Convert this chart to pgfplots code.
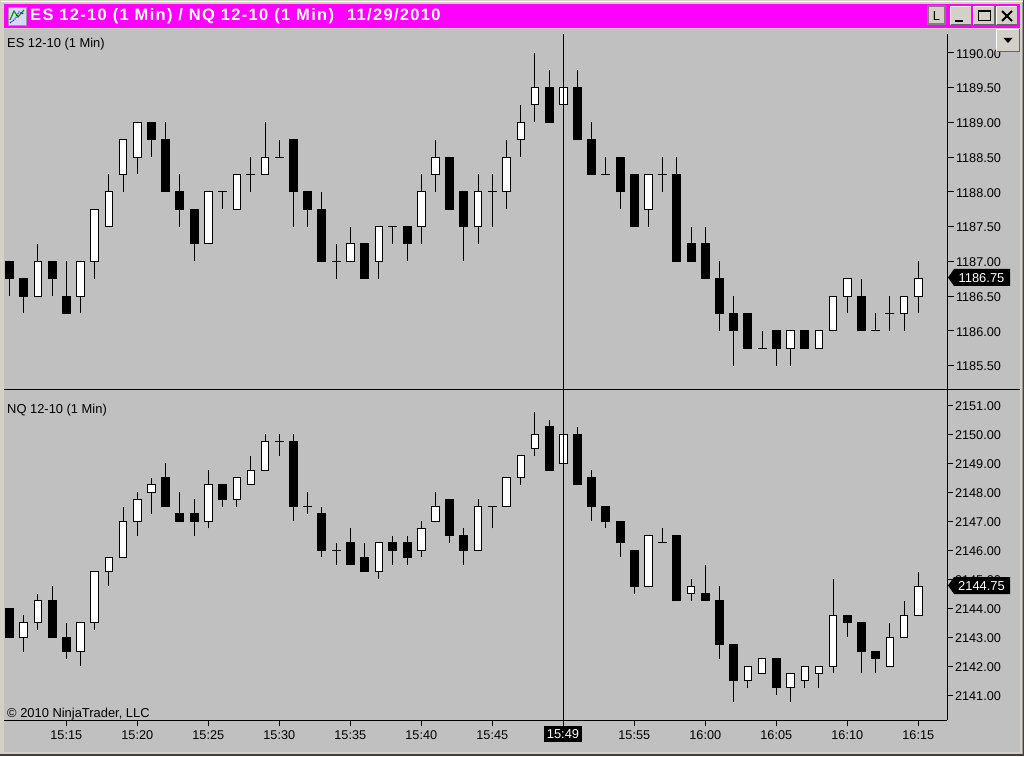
\documentclass[border=0pt]{standalone}
\usepackage{fontspec}
\setmainfont{Liberation Sans}
\usepackage{pgfplots}
\usepackage{pgfplotstable}
\pgfplotsset{compat=1.18}
\definecolor{chart}{HTML}{C0C0C0}
\definecolor{chrome}{HTML}{D4D0C8}
\definecolor{hotmag}{HTML}{FF00FF}
\pgfplotstableread{
t o h l c
11 1187 1187 1186.5 1186.75
12 1186.75 1186.75 1186.25 1186.5
13 1186.5 1187.25 1186.5 1187
14 1187 1187 1186.5 1186.75
15 1186.5 1187 1186.25 1186.25
16 1186.5 1187 1186.25 1187
17 1187 1187.75 1186.75 1187.75
18 1187.5 1188.25 1187.5 1188
19 1188.25 1188.75 1188 1188.75
20 1188.5 1189 1188.25 1189
21 1189 1189 1188.5 1188.75
22 1188.75 1189 1188 1188
23 1188 1188.25 1187.5 1187.75
24 1187.75 1187.75 1187 1187.25
25 1187.25 1188 1187.25 1188
26 1188 1188 1187.75 1188
27 1187.75 1188.25 1187.75 1188.25
28 1188.25 1188.5 1188 1188.25
29 1188.25 1189 1188.25 1188.5
30 1188.5 1188.75 1188.5 1188.5
31 1188.75 1188.75 1187.5 1188
32 1188 1188 1187.5 1187.75
33 1187.75 1188 1187 1187
34 1187 1187.25 1186.75 1187
35 1187 1187.5 1187 1187.25
36 1187.25 1187.25 1186.75 1186.75
37 1187 1187.5 1186.75 1187.5
38 1187.5 1187.5 1187.25 1187.5
39 1187.5 1187.5 1187 1187.25
40 1187.5 1188.25 1187.25 1188
41 1188.25 1188.75 1188 1188.5
42 1188.5 1188.5 1187.75 1187.75
43 1188 1188 1187 1187.5
44 1187.5 1188.25 1187.25 1188
45 1188 1188.25 1187.5 1188
46 1188 1188.75 1187.75 1188.5
47 1188.75 1189.25 1188.5 1189
48 1189.25 1190 1189 1189.5
49 1189.5 1189.75 1189 1189
50 1189.25 1189.5 1189.25 1189.5
51 1189.5 1189.75 1188.75 1188.75
52 1188.75 1189 1188.25 1188.25
53 1188.25 1188.5 1188.25 1188.25
54 1188.5 1188.5 1187.75 1188
55 1188.25 1188.25 1187.5 1187.5
56 1187.75 1188.25 1187.5 1188.25
57 1188.25 1188.5 1188 1188.25
58 1188.25 1188.5 1187 1187
59 1187.25 1187.5 1187 1187
60 1187.25 1187.5 1186.75 1186.75
61 1186.75 1187 1186 1186.25
62 1186.25 1186.5 1185.5 1186
63 1186.25 1186.25 1185.75 1185.75
64 1185.75 1186 1185.75 1185.75
65 1186 1186 1185.5 1185.75
66 1185.75 1186 1185.5 1186
67 1186 1186 1185.75 1185.75
68 1185.75 1186 1185.75 1186
69 1186 1186.5 1186 1186.5
70 1186.5 1186.75 1186.25 1186.75
71 1186.5 1186.75 1186 1186
72 1186 1186.25 1186 1186
73 1186.25 1186.5 1186 1186.25
74 1186.25 1186.5 1186 1186.5
75 1186.5 1187 1186.25 1186.75
}\estable
\pgfplotstableread{
t o h l c
11 2144 2144 2143 2143
12 2143 2143.75 2142.5 2143.5
13 2143.5 2144.5 2143.25 2144.25
14 2144.25 2144.75 2143 2143
15 2143 2143.5 2142.25 2142.5
16 2142.5 2143.5 2142 2143.5
17 2143.5 2145.25 2143.25 2145.25
18 2145.25 2145.75 2144.75 2145.75
19 2145.75 2147.5 2145.75 2147
20 2147 2148 2146.5 2147.75
21 2148 2148.5 2147.25 2148.25
22 2148.5 2149 2147.5 2147.5
23 2147.25 2148 2147 2147
24 2147.25 2147.75 2146.5 2147
25 2147 2148.75 2146.75 2148.25
26 2148.25 2148.25 2147.5 2147.75
27 2147.75 2148.5 2147.5 2148.5
28 2148.25 2149.25 2148.25 2148.75
29 2148.75 2150 2148.75 2149.75
30 2149.75 2150 2149.25 2149.75
31 2149.75 2150 2147 2147.5
32 2147.5 2148 2147.25 2147.5
33 2147.25 2147.5 2145.75 2146
34 2146 2146.25 2145.5 2146
35 2146.25 2146.75 2145.5 2145.5
36 2145.75 2146.25 2145.25 2145.25
37 2145.25 2146.25 2145 2146.25
38 2146.25 2146.5 2145.5 2146
39 2146.25 2146.5 2145.5 2145.75
40 2146 2147 2145.75 2146.75
41 2147 2148 2147 2147.5
42 2147.75 2147.75 2146.25 2146.5
43 2146.5 2146.75 2145.5 2146
44 2146 2147.75 2146 2147.5
45 2147.5 2147.5 2146.75 2147.5
46 2147.5 2148.5 2147.5 2148.5
47 2148.5 2149.25 2148.25 2149.25
48 2149.5 2150.75 2149.25 2150
49 2150.25 2150.5 2148.75 2148.75
50 2149 2150 2149 2150
51 2150 2150.25 2148.25 2148.25
52 2148.5 2148.75 2147 2147.5
53 2147.5 2147.5 2146.75 2147
54 2147 2147 2145.75 2146.25
55 2146 2146 2144.5 2144.75
56 2144.75 2146.5 2144.75 2146.5
57 2146.25 2146.75 2146.25 2146.25
58 2146.5 2146.5 2144.25 2144.25
59 2144.5 2145 2144.25 2144.75
60 2144.5 2145.5 2144.25 2144.25
61 2144.25 2144.75 2142.25 2142.75
62 2142.75 2142.75 2140.75 2141.5
63 2141.5 2142 2141.25 2142
64 2141.75 2142.25 2141.75 2142.25
65 2142.25 2142.25 2141 2141.25
66 2141.25 2141.75 2140.75 2141.75
67 2141.5 2142 2141.25 2142
68 2141.75 2142 2141.25 2142
69 2142 2145 2141.75 2143.75
70 2143.75 2143.75 2143 2143.5
71 2143.5 2143.5 2141.75 2142.5
72 2142.5 2142.5 2141.75 2142.25
73 2142 2143.5 2142 2143
74 2143 2144.25 2143 2143.75
75 2143.75 2145.25 2143.75 2144.75
}\nqtable
% #1 table, #2 half a pixel in data units
\newcommand{\drawcandles}[2]{%
  \addplot[draw=none,mark=none,forget plot,error bars/.cd,y dir=both,y explicit,error mark=none,
    error bar style={black,line width=1pt}]
    table[x=t,y=l,y error plus expr={\thisrow{h}-\thisrow{l}},y error minus expr={0}]{#1};
  \addplot[draw=none,mark=none,forget plot,unbounded coords=discard,error bars/.cd,y dir=both,y explicit,error mark=none,
    error bar style={black,line width=9pt}]
    table[x=t,y expr={\thisrow{c}<\thisrow{o}-0.01?\thisrow{c}-#2:nan},y error plus expr={abs(\thisrow{o}-\thisrow{c})+2*#2},y error minus expr={0}]{#1};
  \addplot[draw=none,mark=none,forget plot,unbounded coords=discard,error bars/.cd,y dir=both,y explicit,error mark=none,
    error bar style={black,line width=8.4pt}]
    table[x=t,y expr={\thisrow{c}>\thisrow{o}+0.01?\thisrow{o}-#2:nan},y error plus expr={abs(\thisrow{o}-\thisrow{c})+2*#2},y error minus expr={0}]{#1};
  \addplot[draw=none,mark=none,forget plot,unbounded coords=discard,error bars/.cd,y dir=both,y explicit,error mark=none,
    error bar style={white,line width=6.4pt}]
    table[x=t,y expr={\thisrow{c}>\thisrow{o}+0.01?\thisrow{o}+#2:nan},y error plus expr={abs(\thisrow{o}-\thisrow{c})-2*#2},y error minus expr={0}]{#1};
  \addplot[only marks,forget plot,unbounded coords=discard,mark=-,mark size=4.5pt,mark options={black,line width=1pt}]
    table[x=t,y expr={abs(\thisrow{o}-\thisrow{c})<0.01?\thisrow{o}:nan}]{#1};
}
\pgfplotsset{panel/.style={
  scale only axis,width=943pt,xmin=10.613,xmax=77.02,clip=true,
  axis line style={black,line width=1pt,-},
  tick style={black,line width=1pt},
  major tick length=7pt,tick align=outside,
  yticklabel style={font=\fontsize{12.7}{14}\selectfont,text=black,anchor=west,xshift=-1.5pt,yshift=-1pt},
  xticklabel style={font=\fontsize{12.7}{14}\selectfont,text=black,yshift=-1pt},
  y tick label style={/pgf/number format/.cd,fixed,fixed zerofill,precision=2,1000 sep={},assume math mode=true},
}}
\begin{document}
\begin{tikzpicture}
\path[use as bounding box] (0,0) rectangle (1024pt,756pt);
\begin{scope}[x=1pt,y=-1pt,shift={(0pt,756pt)}]
 \fill[chrome] (0,0) rectangle (1024,756);
 \fill[white] (1,1) rectangle (1023,2);
 \fill[hotmag] (4,4) rectangle (1020,28);
 \fill[chart] (4,29) rectangle (1020,752);
 \fill[black!75] (0,754) rectangle (1024,756);
 \fill[black!75] (1023,0) rectangle (1024,756);
 \fill[black!40] (1022,2) rectangle (1023,754);
\end{scope}
% upper panel
\begin{axis}[panel,at={(4pt,367pt)},anchor=south west,height=355pt,
  ymin=1185.162,ymax=1190.27,axis x line=none,axis y line*=right,
  ytick={1185.5,1186,1186.5,1187,1187.5,1188,1188.5,1189,1189.5,1190}]
 \drawcandles{\estable}{0.0072}
 \addplot[black,line width=1pt,forget plot] coordinates {(50,1185.162)(50,1190.27)};
\end{axis}
% lower panel
\begin{axis}[panel,at={(4pt,35.7pt)},anchor=south west,height=331.3pt,
  ymin=2140.128,ymax=2151.552,axis x line*=bottom,axis y line*=right,
  ytick={2141,2142,2143,2144,2145,2146,2147,2148,2149,2150,2151},
  xtick={15,20,25,30,35,40,45,50,55,60,65,70,75},
  xticklabels={15:15,15:20,15:25,15:30,15:35,15:40,15:45,,15:55,16:00,16:05,16:10,16:15},
  major tick length=6pt]
 \drawcandles{\nqtable}{0.0172}
 \addplot[black,line width=1pt,forget plot] coordinates {(50,2140.128)(50,2151.552)};
\end{axis}
\begin{scope}[x=1pt,y=-1pt,shift={(0pt,756pt)},every node/.style={inner sep=0pt,font=\fontsize{12.9}{14}\selectfont}]
 \draw[black,line width=1pt] (4,389.3) -- (1020,389.3);
 \node[anchor=west] at (7,44) {ES 12-10 (1 Min)};
 \node[anchor=west] at (7,410) {NQ 12-10 (1 Min)};
 \node[anchor=west] at (7,714) {© 2010 NinjaTrader, LLC};
 % title
 \node[anchor=west,text=white,font=\fontsize{16.5}{18}\bfseries\selectfont] at (30,16) {\addfontfeature{LetterSpace=8}ES 12-10 (1 Min) / NQ 12-10 (1 Min)\hspace{13pt}11/29/2010};
 % icon
 \fill[white!85!blue] (8,7) rectangle (26,25);
 \draw[black!40] (8,7) rectangle (26,25);
 \draw[green!60!black,line width=1.2pt] (10,20) -- (14,11) -- (18,17) -- (24,10);
 \draw[blue!70!black,line width=1pt,densely dotted] (10,23) -- (15,19) -- (19,12) -- (24,14);
 % buttons
 \fill[black!50] (927,5) rectangle (946,25);
 \fill[chrome] (929,7) rectangle (944,23);
 \node at (936.5,16) {L};
 \foreach \a/\b in {950/972,973/995,996/1018}{
  \fill[chrome] (\a,6) rectangle (\b,25);
  \draw[white] (\a+.5,24.5) -- (\a+.5,6.5) -- (\b-.5,6.5);
  \draw[black!60] (\a+.5,24.5) -- (\b-.5,24.5) -- (\b-.5,6.5);
 }
 \fill[black] (955,20) rectangle (963,22);
 \draw[black,line width=1pt] (978,11) rectangle (990,21);
 \draw[black,line width=1pt] (978,11.5) -- (990,11.5);
 \draw[black,line width=1.8pt] (1002,11) -- (1012,21) (1012,11) -- (1002,21);
 \fill[chrome] (996,29) rectangle (1020,52);
 \draw[white] (996.5,51.5) -- (996.5,29.5) -- (1019.5,29.5);
 \draw[black!60] (996.5,51.5) -- (1019.5,51.5) -- (1019.5,29.5);
 \fill[black] (1003.5,38) -- (1012.5,38) -- (1008,43) -- cycle;
 % price tags
 \fill[black] (948,277.5) -- (954,269) -- (1010,269) -- (1010,286) -- (954,286) -- cycle;
 \node[text=white] at (981.5,278) {1186.75};
 \fill[black] (948,585.5) -- (954,577) -- (1010,577) -- (1010,594) -- (954,594) -- cycle;
 \node[text=white] at (981.5,586) {2144.75};
 % crosshair time label
 \fill[black] (544,726) rectangle (582,742);
 \node[text=white] at (563,734.5) {15:49};
\end{scope}
\end{tikzpicture}
\end{document}
